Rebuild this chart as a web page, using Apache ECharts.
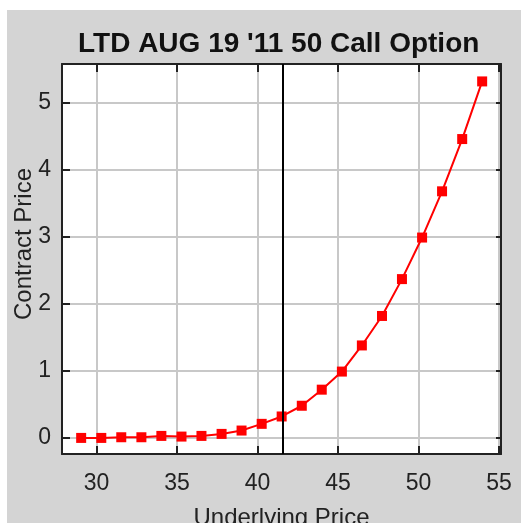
<!DOCTYPE html>
<html>
<head>
<meta charset="utf-8">
<script src="https://cdn.jsdelivr.net/npm/echarts@6/dist/echarts.min.js"></script>
<style>
  html, body { margin: 0; padding: 0; background: #ffffff; }
  #chart { position: absolute; left: 7px; top: 10px; width: 514px; height: 513px; }
</style>
</head>
<body>
<div id="chart"></div>
<script>
// underlying prices (x) and option prices (y)
const underlying = [29.05, 30.30, 31.54, 32.79, 34.03, 35.28, 36.52, 37.77, 39.01, 40.26,
  41.50, 42.75, 43.99, 45.24, 46.48, 47.73, 48.97, 50.22, 51.46, 52.71, 53.95]
const contract = [0.00, 0.00, 0.01, 0.01, 0.03, 0.02, 0.03, 0.06, 0.11, 0.21,
  0.32, 0.48, 0.72, 0.99, 1.38, 1.82, 2.37, 2.99, 3.68, 4.46, 5.32]
const currentPrice = 41.55
const xRange = [27.86, 55.12]
const yRange = [-0.24, 5.58]

const font = 'Liberation Sans'
const points = underlying.map((x, i) => [x, contract[i]])

const chart = echarts.init(document.getElementById('chart'))
chart.setOption({
  backgroundColor: '#d4d4d4',
  animation: false,
  title: {
    text: "LTD AUG 19 '11 50 Call Option",
    left: 71,
    top: 20,
    padding: 0,
    textStyle: { fontFamily: font, fontSize: 28, fontWeight: 'bold', color: '#111' },
  },
  grid: {
    left: 55,
    top: 54,
    right: 20,
    bottom: 69,
    outerBoundsMode: 'none',
    show: true,
    backgroundColor: '#ffffff',
    borderColor: '#222',
    borderWidth: 1,
  },
  xAxis: [
    {
      type: 'value',
      min: xRange[0],
      max: xRange[1],
      name: 'Underlying Price',
      nameLocation: 'middle',
      nameGap: 52,
      nameMoveOverlap: false,
      nameTextStyle: { fontFamily: font, fontSize: 24, color: '#222' },
      axisLine: { onZero: false, lineStyle: { color: '#222', width: 2 } },
      axisTick: { inside: true, length: 8, lineStyle: { color: '#222', width: 2 } },
      axisLabel: {
        margin: 18,
        fontFamily: font,
        fontSize: 23,
        color: '#222',
        showMinLabel: false,
        showMaxLabel: false,
        formatter: (v) => (v % 5 === 0 ? String(v) : ''),
      },
      splitLine: { show: true, lineStyle: { color: '#c8c8c8', width: 2 } },
    },
    {
      type: 'value',
      position: 'top',
      min: xRange[0],
      max: xRange[1],
      axisLine: { onZero: false, lineStyle: { color: '#222', width: 2 } },
      axisTick: { inside: true, length: 8, lineStyle: { color: '#222', width: 2 } },
      axisLabel: { show: false },
      splitLine: { show: false },
    },
  ],
  yAxis: [
    {
      type: 'value',
      min: yRange[0],
      max: yRange[1],
      name: 'Contract Price',
      nameLocation: 'middle',
      nameGap: 26,
      nameMoveOverlap: false,
      nameTextStyle: { fontFamily: font, fontSize: 24, color: '#222', padding: [0, 0, 0, 30] },
      axisLine: { show: true, onZero: false, lineStyle: { color: '#222', width: 2 } },
      axisTick: { show: true, inside: true, length: 8, lineStyle: { color: '#222', width: 2 } },
      axisLabel: {
        margin: 11,
        fontFamily: font,
        fontSize: 23,
        color: '#222',
        showMinLabel: false,
        showMaxLabel: false,
        formatter: (v) => (Number.isInteger(v) ? String(v) : ''),
      },
      splitLine: { show: true, lineStyle: { color: '#c8c8c8', width: 2 } },
    },
    {
      type: 'value',
      position: 'right',
      min: yRange[0],
      max: yRange[1],
      axisLine: { show: true, onZero: false, lineStyle: { color: '#222', width: 2 } },
      axisTick: { show: true, inside: true, length: 5, lineStyle: { color: '#222', width: 2 } },
      axisLabel: { show: false },
      splitLine: { show: false },
    },
  ],
  series: [
    {
      type: 'line',
      data: points,
      symbol: 'rect',
      symbolSize: 10,
      showAllSymbol: true,
      itemStyle: { color: '#ff0000' },
      lineStyle: { color: '#ff0000', width: 2 },
      markLine: {
        silent: true,
        symbol: 'none',
        label: { show: false },
        lineStyle: { color: '#000', width: 2, type: 'solid' },
        data: [{ xAxis: currentPrice }],
      },
    },
  ],
})
</script>
</body>
</html>
